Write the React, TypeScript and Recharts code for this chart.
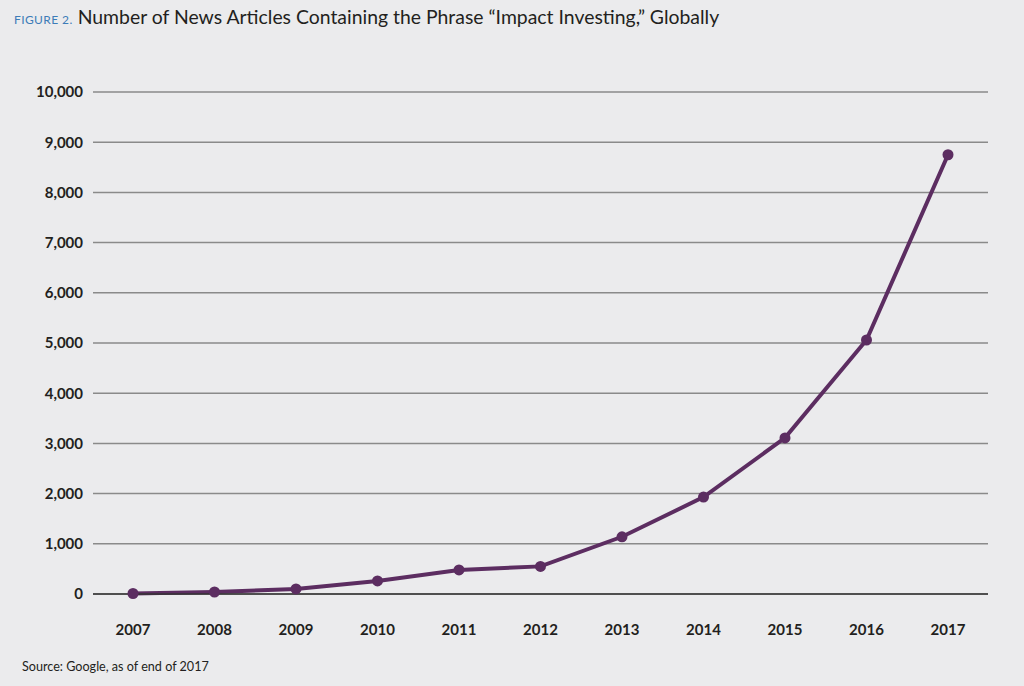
import { LineChart, Line, XAxis, YAxis, CartesianGrid } from "recharts";

const years = ["2007", "2008", "2009", "2010", "2011", "2012", "2013", "2014", "2015", "2016", "2017"];
const articles = [10, 40, 100, 260, 480, 550, 1140, 1930, 3110, 5060, 8750];
const yTicks = [0, 1000, 2000, 3000, 4000, 5000, 6000, 7000, 8000, 9000, 10000];

const data = years.map((year, i) => ({ year, articles: articles[i] }));

const fmt = (v: number) => v.toLocaleString("en-US");

export default function App() {
  return (
    <div
      style={{
        position: "absolute",
        left: 0,
        top: 0,
        width: 1024,
        height: 686,
        background: "#ebebed",
        fontFamily: "Lato, sans-serif",
      }}
    >
      <div style={{ position: "absolute", left: 14, top: 5, whiteSpace: "nowrap", color: "#231f20" }}>
        <span style={{ color: "#3d7cb8", fontSize: 12, letterSpacing: 0.4, marginRight: 5 }}>FIGURE 2.</span>
        <span style={{ fontSize: 19.4 }}>
          Number of News Articles Containing the Phrase “Impact Investing,” Globally
        </span>
      </div>
      <LineChart
        width={1024}
        height={686}
        data={data}
        margin={{ top: 92, right: 36, bottom: 42, left: 0 }}
      >
        <CartesianGrid horizontal vertical={false} stroke="#8a8a8a" strokeWidth={1.5} />
        <XAxis
          dataKey="year"
          height={50}
          padding={{ left: 40, right: 40 }}
          axisLine={{ stroke: "#333", strokeWidth: 1.5 }}
          tickLine={false}
          tickMargin={24}
          tick={{ fill: "#231f20", fontSize: 15, fontWeight: 700 }}
        />
        <YAxis
          width={93}
          domain={[0, 10000]}
          ticks={yTicks}
          tickFormatter={fmt}
          axisLine={false}
          tickLine={false}
          tickMargin={4}
          tick={{ fill: "#231f20", fontSize: 15, fontWeight: 700 }}
        />
        <Line
          type="linear"
          dataKey="articles"
          stroke="#5c2d61"
          strokeWidth={4}
          dot={{ r: 5.5, fill: "#5c2d61", stroke: "#5c2d61", strokeWidth: 0 }}
          isAnimationActive={false}
        />
      </LineChart>
      <div style={{ position: "absolute", left: 22, top: 659, fontSize: 12.6, color: "#231f20" }}>
        Source: Google, as of end of 2017
      </div>
    </div>
  );
}
